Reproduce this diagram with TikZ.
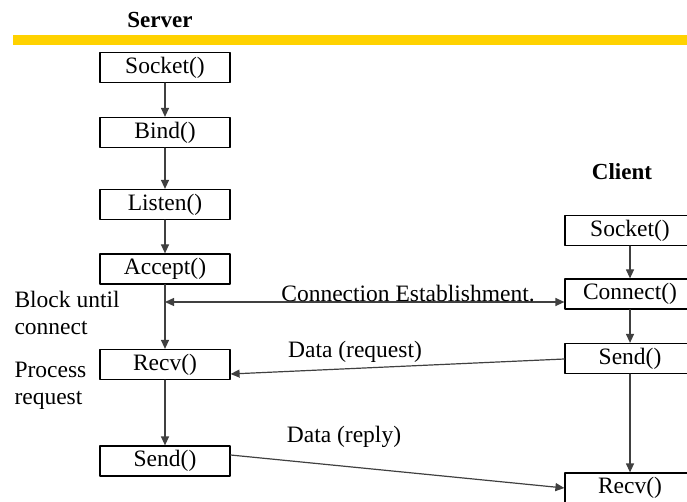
\documentclass[tikz,border=0pt]{standalone}
\usepackage{fontspec}
\setmainfont{Liberation Serif}
\usetikzlibrary{arrows.meta}

\definecolor{bandyellow}{RGB}{255,210,0}
\definecolor{arrowgray}{RGB}{64,64,64}

\begin{document}
\begin{tikzpicture}[
						x=1pt, y=-1pt,
						every node/.style={font=\fontsize{23.5}{27}\selectfont},
						callbox/.style={draw=black, line width=1.2pt, minimum width=130pt, minimum height=30pt, inner sep=0pt},
						flow/.style={draw=arrowgray, line width=1.2pt, -{Triangle[length=9pt,width=8pt]}},
						side/.style={font=\bfseries\fontsize{23}{26}\selectfont},
						line cap=round,
						line join=round
						]
						
						\useasboundingbox (0,0) rectangle (687,502);
						\clip (0,0) rectangle (687,502);
						
						% header band
						\fill[bandyellow] (13,35) rectangle (687,45);
						\node[side] (srv) at (160,20) {Server};
						\node[side] (cli) at (622,172) {Client};
						
						% server column
						\node[callbox] (ssock) at (165,67.5) {Socket()};
						\node[callbox] (sbind) at (165,132.5) {Bind()};
						\node[callbox] (slisten) at (165,204.5) {Listen()};
						\node[callbox] (saccept) at (165,269) {Accept()};
						\node[callbox] (srecv) at (165,364.5) {Recv()};
						\node[callbox] (ssend) at (165,461) {Send()};
						
						% client column
						\node[callbox] (csock) at (630,230.5) {Socket()};
						\node[callbox] (cconn) at (630,294) {Connect()};
						\node[callbox] (csend) at (630,358.5) {Send()};
						\node[callbox] (crecv) at (630,488) {Recv()};
						
						% notes
						\node[anchor=west, align=left] (nblock) at (11,313) {Block until\\connect};
						\node[anchor=west, align=left] (nproc) at (11,386) {Process\\request};
						
						\draw[flow] (ssock) -- (sbind);
						\draw[flow] (sbind) -- (slisten);
						\draw[flow] (slisten) -- (saccept);
						\draw[flow] (saccept) -- (srecv);
						\draw[flow] (srecv) -- (ssend);
						
						\draw[flow] (csock) -- (cconn);
						\draw[flow] (cconn) -- (csend);
						\draw[flow] (csend) -- (crecv);
						
						% messages
						\coordinate (cest) at ([yshift=-8pt]cconn.west);
						\draw[flow, {Triangle[length=9pt,width=8pt]}-{Triangle[length=9pt,width=8pt]}] (saccept |- cest) -- (cest);
						\node (lest) at (408,294) {Connection Establishment.};
						
						\draw[flow] ([yshift=-0.5pt]csend.west) -- ([yshift=-9.5pt]srecv.east);
						\node (lreq) at (355,352) {Data (request)};
						
						\draw[flow] ([yshift=6pt]ssend.east) -- ([yshift=0pt]crecv.west);
						\node (lrep) at (344,437) {Data (reply)};
						
					\end{tikzpicture}
\end{document}
